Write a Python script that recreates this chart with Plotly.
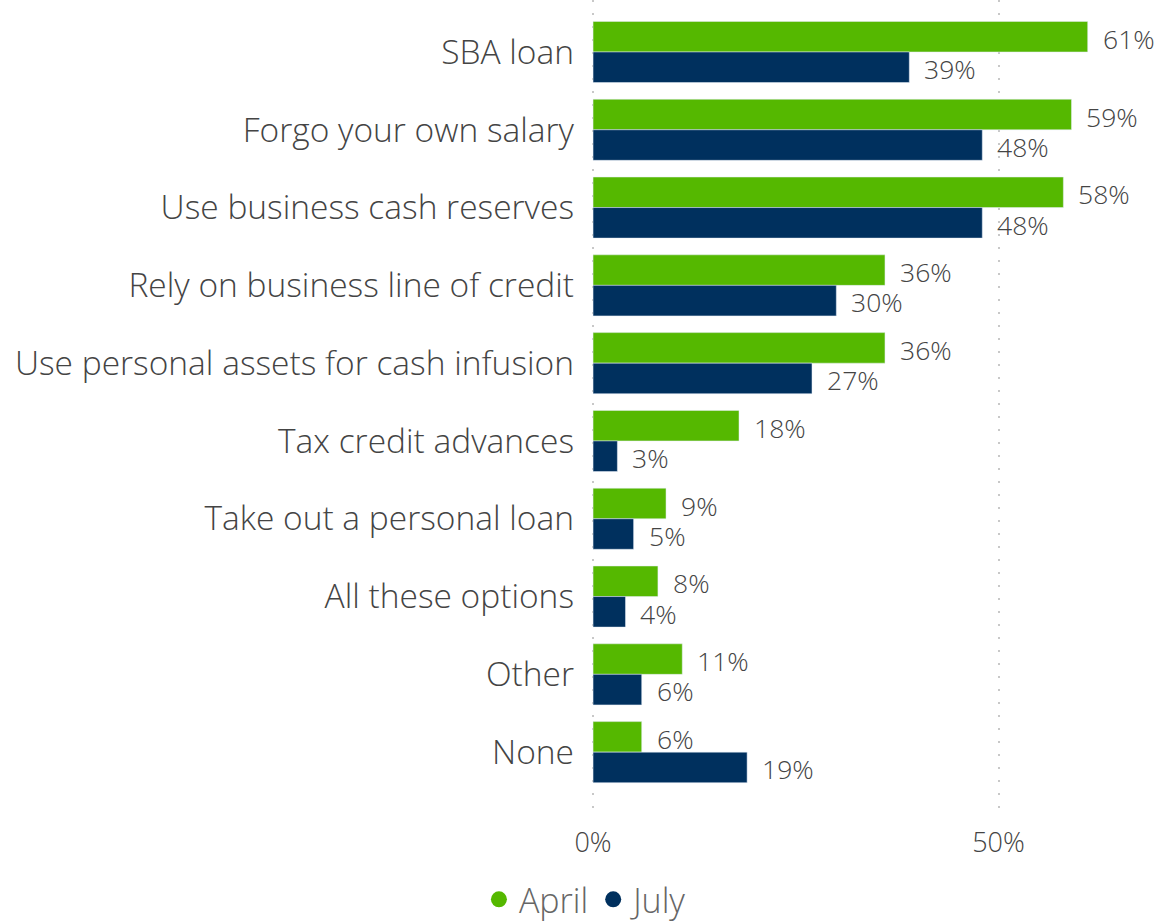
import plotly.graph_objects as go

categories = [
    "SBA loan",
    "Forgo your own salary",
    "Use business cash reserves",
    "Rely on business line of credit",
    "Use personal assets for cash infusion",
    "Tax credit advances",
    "Take out a personal loan",
    "All these options",
    "Other",
    "None",
]
april = [61, 59, 58, 36, 36, 18, 9, 8, 11, 6]
july = [39, 48, 48, 30, 27, 3, 5, 4, 6, 19]

GREEN = "#55b800"
NAVY = "#00305e"
FONT = "Open Sans"

fig = go.Figure()
fig.add_trace(go.Bar(y=categories, x=april, orientation="h", name="April",
                     marker_color=GREEN, showlegend=False))
fig.add_trace(go.Bar(y=categories, x=july, orientation="h", name="July",
                     marker_color=NAVY, showlegend=False))

# legend entries drawn as round dots
for name, col in [("April", GREEN), ("July", NAVY)]:
    fig.add_trace(go.Scatter(x=[None], y=[None], mode="markers", name=name,
                             marker=dict(color=col, size=20, symbol="circle")))

# value labels to the right of each bar
for series, off in [(april, -0.17), (july, 0.22)]:
    for i, v in enumerate(series):
        fig.add_annotation(x=v, y=i + off, yref="y", xref="x", text=f"{v}%",
                           showarrow=False, xanchor="left", xshift=13,
                           font=dict(family=FONT, size=26.5, color="#444444", weight=300))

fig.update_layout(
    width=1155, height=922,
    margin=dict(l=592, r=0, t=0, b=107, autoexpand=False),
    paper_bgcolor="white", plot_bgcolor="white",
    barmode="group", bargap=0.215, bargroupgap=0,
    font=dict(family=FONT, color="#444444", weight=300),
    legend=dict(orientation="h", x=-0.009, xanchor="center", y=-0.104, yanchor="middle",
                font=dict(family=FONT, size=34, color="#666666", weight=300),
                itemsizing="trace", itemwidth=30, traceorder="normal"),
)
fig.update_xaxes(range=[-0.13, 69.3], tickvals=[0, 50], ticktext=["0%", "50%"],
                 showgrid=True, gridcolor="#c8c8c8", gridwidth=2, griddash="2px,11px",
                 zeroline=False, showline=False, ticks="", automargin=False,
                 tickfont=dict(family=FONT, size=27, color="#444444", weight=300),
                 ticklabelstandoff=9)
fig.update_yaxes(type="category", range=[9.808, -0.668], showgrid=False,
                 zeroline=False, showline=False, ticks="", automargin=False,
                 tickfont=dict(family=FONT, size=33.5, color="#444444", weight=300),
                 ticklabelstandoff=17)

fig.write_html("out.html")
